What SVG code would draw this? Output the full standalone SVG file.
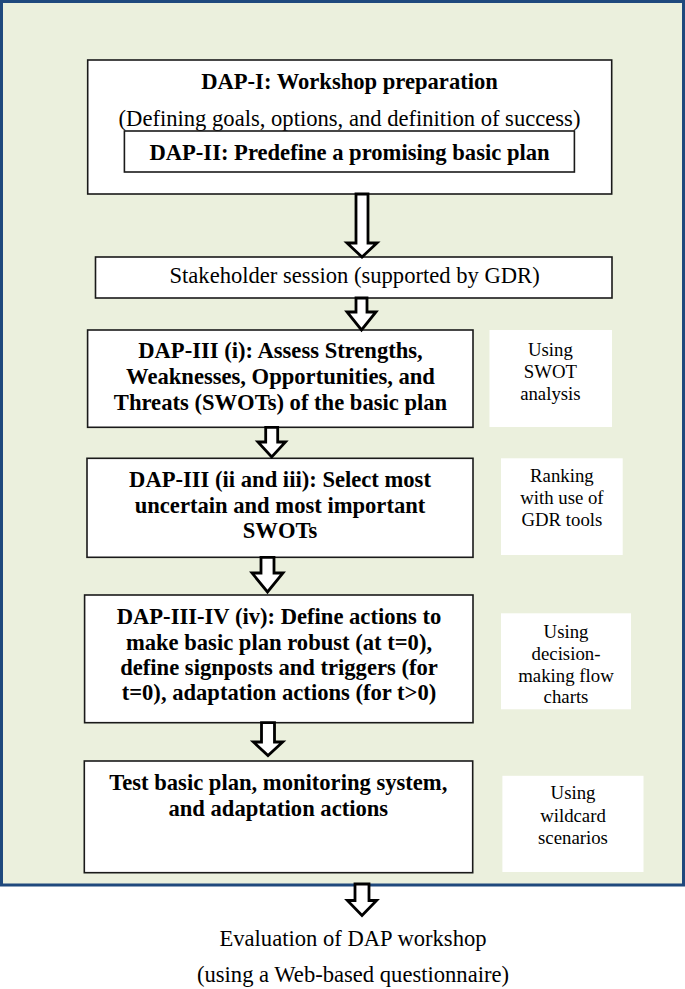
<svg xmlns="http://www.w3.org/2000/svg" width="685" height="989" viewBox="0 0 685 989">
<style>
  .frame{fill:#EBF0DD;stroke:#1F497D;stroke-width:3}
  .box{fill:#FFFFFF;stroke:#1A1A1A;stroke-width:1.6}
  .side{fill:#FFFFFF;stroke:none}
  .arrow{fill:#FFFFFF;stroke:#000000;stroke-width:2.8;stroke-linejoin:miter}
  text{font-family:"Liberation Serif","Times New Roman",serif;fill:#000000;text-anchor:middle}
  .b{font-size:22.6px;font-weight:bold}
  .r{font-size:22.6px}
  .s{font-size:18.8px}
</style>
<rect id="frame" class="frame" x="1.5" y="1.5" width="682" height="883.5"/>

<g id="n-dap1">
  <rect class="box" x="87.7" y="60" width="524" height="134"/>
  <text class="b" x="349.5" y="88.5">DAP-I: Workshop preparation</text>
  <text class="r" x="349.5" y="126">(Defining goals, options, and definition of success)</text>
</g>
<g id="n-dap2">
  <rect class="box" x="124.4" y="131" width="450" height="41"/>
  <text class="b" x="349.5" y="159.5">DAP-II: Predefine a promising basic plan</text>
</g>

<g id="n-stakeholder">
  <rect class="box" x="95.5" y="257" width="516.5" height="41"/>
  <text class="r" x="354.6" y="283">Stakeholder session (supported by GDR)</text>
</g>

<g id="n-dap3i">
  <rect class="box" x="87.6" y="330" width="385.4" height="97.3"/>
  <text class="b" x="280.5" y="358.3">DAP-III (i): Assess Strengths,</text>
  <text class="b" x="280.5" y="384.3">Weaknesses, Opportunities, and</text>
  <text class="b" x="280.5" y="410">Threats (SWOTs) of the basic plan</text>
</g>
<g id="n-swot">
  <rect class="side" x="489.5" y="330" width="122.5" height="97"/>
  <text class="s" x="550.4" y="356">Using</text>
  <text class="s" x="550.4" y="378">SWOT</text>
  <text class="s" x="550.4" y="400">analysis</text>
</g>

<g id="n-dap3ii">
  <rect class="box" x="87" y="458.3" width="386" height="99"/>
  <text class="b" x="280" y="486.7">DAP-III (ii and iii): Select most</text>
  <text class="b" x="280" y="512.7">uncertain and most important</text>
  <text class="b" x="280" y="538.3">SWOTs</text>
</g>
<g id="n-ranking">
  <rect class="side" x="501" y="458.3" width="121.7" height="96.7"/>
  <text class="s" x="561.9" y="481.7">Ranking</text>
  <text class="s" x="561.9" y="503.5">with use of</text>
  <text class="s" x="561.9" y="526">GDR tools</text>
</g>

<g id="n-dap34">
  <rect class="box" x="84.6" y="595" width="388.4" height="127.7"/>
  <text class="b" x="279" y="623.5">DAP-III-IV (iv): Define actions to</text>
  <text class="b" x="279" y="649.5">make basic plan robust (at t=0),</text>
  <text class="b" x="279" y="675">define signposts and triggers (for</text>
  <text class="b" x="279" y="700">t=0), adaptation actions (for t&gt;0)</text>
</g>
<g id="n-decision">
  <rect class="side" x="501" y="613.3" width="130" height="96"/>
  <text class="s" x="566" y="638.3">Using</text>
  <text class="s" x="566" y="660">decision-</text>
  <text class="s" x="566" y="681.7">making flow</text>
  <text class="s" x="566" y="703.3">charts</text>
</g>

<g id="n-test">
  <rect class="box" x="84.3" y="761" width="388.4" height="111.7"/>
  <text class="b" x="278.3" y="789.5">Test basic plan, monitoring system,</text>
  <text class="b" x="278.3" y="816.3">and adaptation actions</text>
</g>
<g id="n-wildcard">
  <rect class="side" x="502.4" y="775.8" width="141.1" height="96.2"/>
  <text class="s" x="573" y="799.2">Using</text>
  <text class="s" x="573" y="822">wildcard</text>
  <text class="s" x="573" y="843.7">scenarios</text>
</g>

<g id="n-evaluation">
  <text class="r" x="353" y="945.6">Evaluation of DAP workshop</text>
  <text class="r" x="353" y="982.3">(using a Web-based questionnaire)</text>
</g>

<g id="connectors">
  <path class="arrow" d="M356,194 L368,194 L368,243 L377,243 L362,257 L347,243 L356,243 Z"/>
  <path class="arrow" d="M356,298 L367,298 L367,312 L376,312 L361.5,330 L347,312 L356,312 Z"/>
  <path class="arrow" d="M265.7,427.3 L277.7,427.3 L277.7,442 L285.5,442 L271.7,457 L257.9,442 L265.7,442 Z"/>
  <path class="arrow" d="M261,557.3 L274,557.3 L274,573 L283,573 L267.5,592 L252,573 L261,573 Z"/>
  <path class="arrow" d="M261.5,722.7 L274.5,722.7 L274.5,742 L282.7,742 L268,755.5 L253.4,742 L261.5,742 Z"/>
  <path class="arrow" d="M355,884 L369,884 L369,900.5 L376.6,900.5 L362,915.5 L347.4,900.5 L355,900.5 Z"/>
</g>
</svg>
